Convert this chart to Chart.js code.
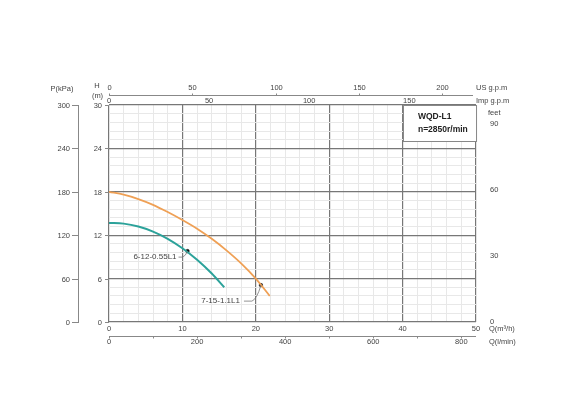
<!DOCTYPE html>
<html>
<head>
<meta charset="utf-8">
<script src="https://cdn.jsdelivr.net/npm/chart.js@4"></script>
<style>
html,body{margin:0;padding:0;background:#fff;}
canvas{display:block;}
</style>
</head>
<body>
<canvas id="c" width="570" height="412"></canvas>
<script>
// ---- data ----
const flowSmall = [0, 2, 4, 6, 8, 10, 12, 14, 15.7];            // m3/h
const headSmall = [13.7, 13.6, 13.2, 12.5, 11.5, 10.2, 8.6, 6.7, 4.8]; // m
const flowLarge = [0, 2, 4, 6, 8, 10, 12, 14, 16, 18, 20, 21.9];
const headLarge = [18, 17.6, 17.0, 16.2, 15.2, 14.1, 12.9, 11.5, 9.9, 8.1, 6.0, 3.6];
const modelSmall = '6-12-0.55L1';
const modelLarge = '7-15-1.1L1';
const markerSmall = [10.7, 9.8];
const markerLarge = [20.7, 5.1];

// tick labels
const qTicks = [0, 10, 20, 30, 40, 50];          // m3/h
const lminTicks = [0, 200, 400, 600, 800];       // l/min
const lminMinor = [100, 300, 500, 700];
const usGpmTicks = [0, 50, 100, 150, 200];
const impGpmTicks = [0, 50, 100, 150];
const hTicks = [0, 6, 12, 18, 24, 30];           // m
const pTicks = [0, 60, 120, 180, 240, 300];      // kPa
const feetTicks = [0, 30, 60, 90];
const titleLines = ['WQD-L1', 'n=2850r/min'];

const LMIN_PER_M3H = 16.6667, USGPM_PER_M3H = 4.4029, IMPGPM_PER_M3H = 3.6662, M_PER_FT = 0.3048;

const orange = '#EFA055', teal = '#2CA29A';
const txt = '#444';
const FONT = '"Liberation Sans", Arial, sans-serif';

const pts = (xs, ys) => xs.map((x, i) => ({x, y: ys[i]}));
const isMult = (v, m) => Math.abs(v / m - Math.round(v / m)) < 1e-6;

const axesPlugin = {
  id: 'extraAxes',
  afterDraw(chart) {
    const {ctx, chartArea: a, scales: {x, y}} = chart;
    ctx.save();
    ctx.fillStyle = txt;
    ctx.strokeStyle = '#888';
    ctx.lineWidth = 1;
    ctx.textBaseline = 'middle';
    ctx.font = '7.5px ' + FONT;

    // left P(kPa) axis
    const pX = a.left - 31;
    ctx.beginPath();
    ctx.moveTo(pX + 0.5, y.getPixelForValue(30));
    ctx.lineTo(pX + 0.5, y.getPixelForValue(0));
    ctx.stroke();
    ctx.textAlign = 'right';
    pTicks.forEach(p => {
      const py = Math.round(y.getPixelForValue(p / 10)) + 0.5;
      ctx.beginPath(); ctx.moveTo(pX - 6, py); ctx.lineTo(pX + 1, py); ctx.stroke();
      ctx.fillText(String(p), pX - 8, py);
    });
    ctx.textAlign = 'center';
    ctx.fillText('P(kPa)', a.left - 47, a.top - 16);

    // H axis labels
    ctx.textAlign = 'right';
    hTicks.forEach(h => {
      const py = Math.round(y.getPixelForValue(h)) + 0.5;
      ctx.beginPath(); ctx.moveTo(a.left - 4, py); ctx.lineTo(a.left, py); ctx.stroke();
      ctx.fillText(String(h), a.left - 7, py);
    });
    ctx.textAlign = 'center';
    ctx.fillText('H', a.left - 12, a.top - 19);
    ctx.fillText('(m)', a.left - 11.5, a.top - 9.5);

    // right feet labels
    ctx.textAlign = 'left';
    feetTicks.forEach(f => {
      ctx.fillText(String(f), a.right + 14, y.getPixelForValue(f * M_PER_FT));
    });
    ctx.fillText('feet', a.right + 12, a.top + 8);

    // bottom Q(m3/h)
    ctx.textAlign = 'center';
    qTicks.forEach(q => ctx.fillText(String(q), x.getPixelForValue(q), a.bottom + 7));
    ctx.textAlign = 'left';
    ctx.fillText('Q(m³/h)', a.right + 13, a.bottom + 7);

    // bottom l/min axis
    const lY = a.bottom + 14.5;
    ctx.beginPath(); ctx.moveTo(a.left, lY); ctx.lineTo(a.right, lY); ctx.stroke();
    lminTicks.concat(lminMinor).forEach(l => {
      const px = Math.round(x.getPixelForValue(l / LMIN_PER_M3H)) + 0.5;
      ctx.beginPath(); ctx.moveTo(px, lY); ctx.lineTo(px, lY + 2); ctx.stroke();
    });
    ctx.textAlign = 'center';
    lminTicks.forEach(l => ctx.fillText(String(l), x.getPixelForValue(l / LMIN_PER_M3H), a.bottom + 20));
    ctx.textAlign = 'left';
    ctx.fillText('Q(l/min)', a.right + 13, a.bottom + 20);

    // top US g.p.m axis
    const uY = a.top - 9.5;
    ctx.beginPath(); ctx.moveTo(a.left, uY); ctx.lineTo(a.right - 3, uY); ctx.stroke();
    ctx.textAlign = 'center';
    usGpmTicks.forEach(g => {
      const px = Math.round(x.getPixelForValue(g / USGPM_PER_M3H)) + 0.5;
      ctx.beginPath(); ctx.moveTo(px, uY); ctx.lineTo(px, uY - 2); ctx.stroke();
      ctx.fillText(String(g), px, a.top - 17);
    });
    impGpmTicks.forEach(g => ctx.fillText(String(g), x.getPixelForValue(g / IMPGPM_PER_M3H), a.top - 4));
    ctx.textAlign = 'left';
    ctx.fillText('US g.p.m', a.right, a.top - 17);
    ctx.fillText('Imp g.p.m', a.right, a.top - 4);

    // title box
    const bx = x.getPixelForValue(40.05), by = a.top, bw = a.right - bx, bh = 36;
    ctx.fillStyle = '#fff';
    ctx.fillRect(bx, by, bw, bh);
    ctx.strokeStyle = '#888';
    ctx.strokeRect(Math.round(bx) + 0.5, by + 0.5, bw, bh);
    ctx.fillStyle = '#222';
    ctx.font = 'bold 8.5px ' + FONT;
    ctx.fillText(titleLines[0], bx + 15, by + 12);
    ctx.fillText(titleLines[1], bx + 15, by + 24.5);

    // model annotations with leader lines
    ctx.font = '8px ' + FONT;
    ctx.fillStyle = txt;
    ctx.strokeStyle = '#777';
    ctx.lineWidth = 0.8;
    const m1x = x.getPixelForValue(markerSmall[0]), m1y = y.getPixelForValue(markerSmall[1]);
    ctx.textAlign = 'right';
    ctx.fillText(modelSmall, m1x - 11, m1y + 6);
    ctx.beginPath();
    ctx.moveTo(m1x - 9, m1y + 6);
    ctx.lineTo(m1x - 5, m1y + 6);
    ctx.quadraticCurveTo(m1x - 2, m1y + 5, m1x, m1y);
    ctx.stroke();
    const m2x = x.getPixelForValue(markerLarge[0]), m2y = y.getPixelForValue(markerLarge[1]);
    ctx.fillText(modelLarge, m2x - 21, m2y + 16);
    ctx.beginPath();
    ctx.moveTo(m2x - 17, m2y + 16);
    ctx.lineTo(m2x - 9, m2y + 16);
    ctx.quadraticCurveTo(m2x - 4, m2y + 14, m2x, m2y);
    ctx.stroke();

    ctx.restore();
  }
};

const hGrid = [];
for (let i = 0; i <= 25; i++) hGrid.push(+(i * 1.2).toFixed(2));

new Chart(document.getElementById('c'), {
  type: 'scatter',
  data: {
    datasets: [
      {data: pts(flowLarge, headLarge), showLine: true, borderColor: orange, borderWidth: 1.8, pointRadius: 0, tension: 0.4, cubicInterpolationMode: 'monotone'},
      {data: pts(flowSmall, headSmall), showLine: true, borderColor: teal, borderWidth: 2, pointRadius: 0, tension: 0.4, cubicInterpolationMode: 'monotone'},
      {data: [{x: markerSmall[0], y: markerSmall[1]}, {x: markerLarge[0], y: markerLarge[1]}], showLine: false, pointRadius: 1.8, pointBackgroundColor: '#111', pointBorderColor: '#111', pointBorderWidth: 0.5}
    ]
  },
  options: {
    responsive: false,
    animation: false,
    layout: {padding: {left: 109, right: 94, top: 105, bottom: 90}},
    plugins: {legend: {display: false}, tooltip: {enabled: false}},
    scales: {
      x: {
        type: 'linear', min: 0, max: 50,
        ticks: {display: false, stepSize: 2},
        border: {display: false},
        grid: {drawTicks: false,
          color: c => isMult(c.tick.value, 10) ? '#777' : '#e8e8e8',
          lineWidth: c => isMult(c.tick.value, 10) ? 1.2 : 1}
      },
      y: {
        type: 'linear', min: 0, max: 30,
        afterBuildTicks: s => { s.ticks = hGrid.map(v => ({value: v})); },
        ticks: {display: false},
        border: {display: false},
        grid: {drawTicks: false,
          color: c => isMult(c.tick.value, 6) ? '#777' : '#e8e8e8',
          lineWidth: c => isMult(c.tick.value, 6) ? 1.2 : 1}
      }
    }
  },
  plugins: [axesPlugin]
});
</script>
</body>
</html>
